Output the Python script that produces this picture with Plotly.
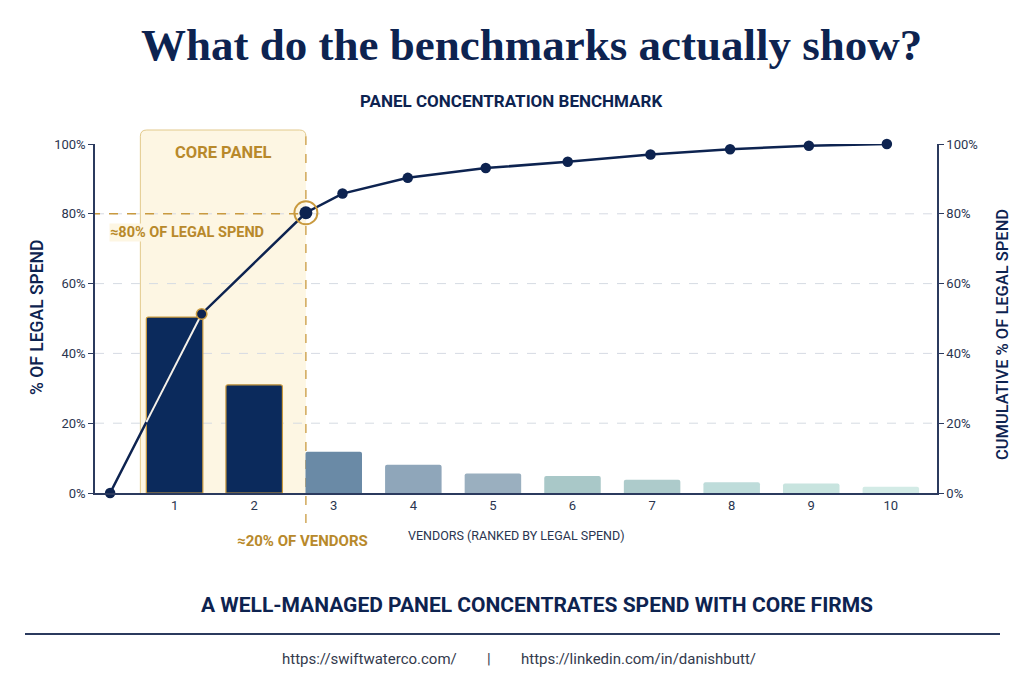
import numpy as np
import plotly.graph_objects as go

# data
vendors = [1, 2, 3, 4, 5, 6, 7, 8, 9, 10]
spend_share = [50.4, 31.0, 11.8, 8.1, 5.6, 4.9, 3.8, 3.1, 2.7, 1.8]
cum_x = [0.19, 1.34, 2.65, 3.11, 3.93, 4.91, 5.94, 6.98, 7.98, 8.97, 9.95]
cum_share = [0, 51.3, 80.3, 85.8, 90.3, 93.1, 94.9, 97.0, 98.5, 99.5, 100]
y_ticks = [0, 20, 40, 60, 80, 100]
y_ticktext = ['0%', '20%', '40%', '60%', '80%', '100%']
grid_vals = [20, 40, 60, 80]

bar_colors = ['#0b2a5c', '#0b2a5c', '#6a8aa6', '#8fa6ba', '#9aafbf',
              '#a9c8c8', '#adcbcb', '#bedcda', '#c8e4df', '#d3ebe6']

NAVY = '#0d2350'
GOLD = '#b8892b'
GOLD_LINE = '#c99a3f'
CREAM = '#fdf6e3'
TXT = '#2a3550'
SANS = 'Roboto'
BAR_W = 0.71

# page body has an 8px margin, so the figure is a bit smaller than the window
W, H = 1016, 675
PLOT_L, PLOT_R, PLOT_T, PLOT_B = 95, 937, 144, 493   # plot box in window pixels
OFF = 8
L, T = PLOT_L - OFF, PLOT_T - OFF
R, B = W - (PLOT_R - OFF), H - (PLOT_B - OFF)


def px(x):
    return (x - PLOT_L) / (PLOT_R - PLOT_L)


def py(y):
    return (PLOT_B - y) / (PLOT_B - PLOT_T)


fig = go.Figure()

fig.add_trace(go.Bar(
    x=vendors, y=spend_share, width=BAR_W,
    marker=dict(color=bar_colors,
                line=dict(color=[GOLD_LINE] * 2 + ['rgba(0,0,0,0)'] * 8,
                          width=[1.2] * 2 + [0] * 8)),
    hoverinfo='skip', showlegend=False))

fig.add_trace(go.Scatter(
    x=cum_x, y=cum_share, yaxis='y2', mode='lines',
    line=dict(color=NAVY, width=2.5), cliponaxis=False,
    hoverinfo='skip', showlegend=False))

# part of the first segment that runs over bar 1 is drawn light
x_edge = vendors[0] - BAR_W / 2
y_edge = float(np.interp(x_edge, cum_x[:2], cum_share[:2]))
fig.add_trace(go.Scatter(
    x=[x_edge, cum_x[1]], y=[y_edge, cum_share[1]], yaxis='y2', mode='lines',
    line=dict(color='#f4f1ea', width=2), hoverinfo='skip', showlegend=False))

sizes = [10.5] * len(cum_x)
sizes[2] = 13
outline = [0] * len(cum_x)
outline[1] = 1.5
fig.add_trace(go.Scatter(
    x=cum_x, y=cum_share, yaxis='y2', mode='markers', cliponaxis=False,
    marker=dict(color=NAVY, size=sizes, opacity=1,
                line=dict(color=GOLD_LINE, width=outline)),
    hoverinfo='skip', showlegend=False))

# ring around the 80% point
fig.add_trace(go.Scatter(
    x=[cum_x[2]], y=[cum_share[2]], yaxis='y2', mode='markers', cliponaxis=False,
    marker=dict(color='rgba(0,0,0,0)', size=23, opacity=1,
                line=dict(color=GOLD_LINE, width=2)),
    hoverinfo='skip', showlegend=False))

# core panel box
x0, x1 = 0.57, cum_x[2]
yt = py(130)
rx, ry = 0.08, 0.018
box = (f"M {x0},0 L {x0},{yt - ry} Q {x0},{yt} {x0 + rx},{yt} "
       f"L {x1 - rx},{yt} Q {x1},{yt} {x1},{yt - ry} L {x1},0 Z")
edge = (f"M {x0},0 L {x0},{yt - ry} Q {x0},{yt} {x0 + rx},{yt} "
        f"L {x1 - rx},{yt} Q {x1},{yt} {x1},{yt - ry}")

shapes = [dict(type='path', path=box, xref='x', yref='paper',
               fillcolor=CREAM, line=dict(width=0), layer='below'),
          dict(type='path', path=edge, xref='x', yref='paper',
               fillcolor='rgba(0,0,0,0)', line=dict(color='#e2c98c', width=1), layer='below')]
for v in grid_vals:
    shapes.append(dict(type='line', xref='paper', yref='y', x0=0, x1=1, y0=v, y1=v,
                       line=dict(color='#d6dbe3', width=1, dash='dash'), layer='below'))
shapes.append(dict(type='line', xref='x', yref='paper', x0=x1, x1=x1, y0=py(523), y1=yt - ry,
                   line=dict(color=GOLD_LINE, width=1.3, dash='dash'), layer='below'))
shapes.append(dict(type='line', xref='x', yref='y', x0=-0.05, x1=x1, y0=80, y1=80,
                   line=dict(color=GOLD_LINE, width=1.5, dash='dash'), layer='below'))
shapes.append(dict(type='line', xref='paper', yref='paper', x0=px(25), x1=px(1000),
                   y0=py(634), y1=py(634), line=dict(color='#2b3a5e', width=2)))

annotations = [
    dict(text='What do the benchmarks actually show?', x=px(531), y=py(45),
         font=dict(family='Liberation Serif', size=45, color=NAVY, weight='bold')),
    dict(text='PANEL CONCENTRATION BENCHMARK', x=px(511), y=py(101),
         font=dict(family=SANS, size=17, color=NAVY, weight='bold')),
    dict(text='CORE PANEL', xref='x', x=(x0 + x1) / 2, y=py(153),
         font=dict(family=SANS, size=16.5, color=GOLD, weight='bold')),
    dict(text='≈80% OF LEGAL SPEND', x=px(187), y=py(232), bgcolor=CREAM, borderpad=0,
         font=dict(family=SANS, size=14.5, color=GOLD, weight='bold')),
    dict(text='≈20% OF VENDORS', x=px(302), y=py(541),
         font=dict(family=SANS, size=15, color=GOLD, weight='bold')),
    dict(text='VENDORS (RANKED BY LEGAL SPEND)', x=px(516), y=py(535),
         font=dict(family=SANS, size=12.5, color=TXT)),
    dict(text='% OF LEGAL SPEND', x=px(37), y=py(318), textangle=-90,
         font=dict(family=SANS, size=17.5, color=NAVY, weight=500)),
    dict(text='CUMULATIVE % OF LEGAL SPEND', x=px(1002), y=py(334), textangle=-90,
         font=dict(family=SANS, size=16.5, color=NAVY, weight=500)),
    dict(text='A WELL-MANAGED PANEL CONCENTRATES SPEND WITH CORE FIRMS', x=px(537), y=py(605),
         font=dict(family=SANS, size=21, color=NAVY, weight='bold')),
    dict(text='https://swiftwaterco.com/', x=px(369), y=py(659),
         font=dict(family=SANS, size=15, color='#333a4d')),
    dict(text='|', x=px(489), y=py(659),
         font=dict(family=SANS, size=15, color='#333a4d')),
    dict(text='https://linkedin.com/in/danishbutt/', x=px(638), y=py(659),
         font=dict(family=SANS, size=15, color='#333a4d')),
]
for a in annotations:
    a.setdefault('xref', 'paper')
    a.setdefault('yref', 'paper')
    a.update(showarrow=False, xanchor='center', yanchor='middle')

yaxis_common = dict(range=[0, 100], tickvals=y_ticks, ticktext=y_ticktext,
                    ticks='outside', ticklen=5, tickcolor='#2b3a5e',
                    showline=True, linecolor='#2b3a5e', linewidth=1.5,
                    showgrid=False, zeroline=False, fixedrange=True,
                    tickfont=dict(family=SANS, size=13, color=TXT))

fig.update_layout(
    width=W, height=H,
    margin=dict(l=L, r=R, t=T, b=B),
    paper_bgcolor='white', plot_bgcolor='rgba(0,0,0,0)',
    barcornerradius=2,
    xaxis=dict(range=[0, 10.58], tickvals=vendors, showline=True,
               linecolor='#2b3a5e', linewidth=1.5, ticks='', showgrid=False,
               zeroline=False, fixedrange=True,
               tickfont=dict(family=SANS, size=13, color=TXT)),
    yaxis=yaxis_common,
    yaxis2=dict(yaxis_common, overlaying='y', side='right'),
    shapes=shapes,
    annotations=annotations,
)

fig.write_html("out.html")
